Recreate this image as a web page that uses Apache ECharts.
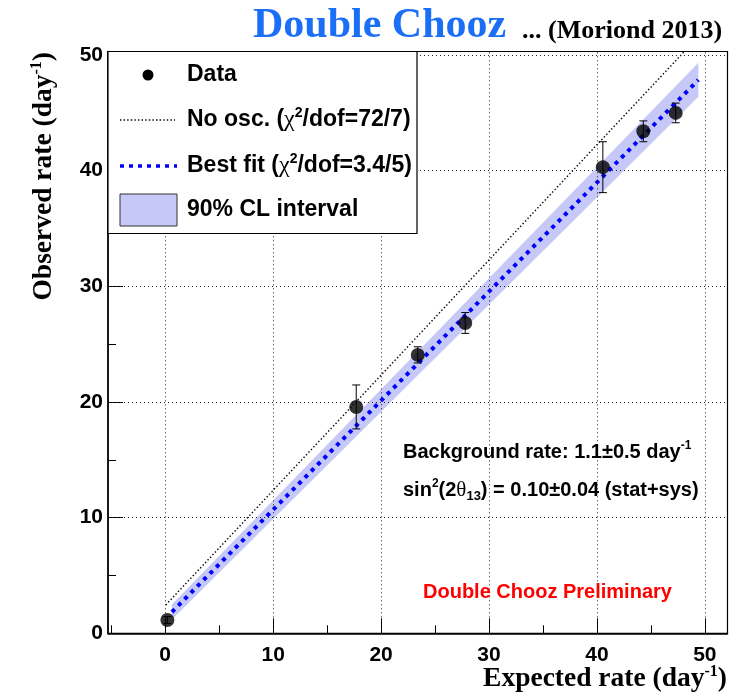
<!DOCTYPE html>
<html><head><meta charset="utf-8">
<script src="https://cdn.jsdelivr.net/npm/echarts@6/dist/echarts.min.js"></script>
<style>html,body{margin:0;padding:0;background:#fff}#c{width:742px;height:696px}</style>
</head><body><div id="c"></div>
<script>
// ---- data ----
const dataX   = [0.2, 17.7, 23.4, 27.8, 40.55, 44.3, 47.3];
const dataY   = [1.15, 19.57, 24.07, 26.83, 40.3, 43.4, 44.99];
const dataErr = [0.3, 1.9, 0.7, 0.9, 2.2, 0.9, 0.85];

const noOscX = [0.05, 48.1];
const noOscY = [2.45, 50.3];

const fitX = [0.62, 49.4];
const fitY = [1.84, 47.84];

const bandX  = [0.62, 49.4];
const bandLo = [1.2, 46.39];
const bandHi = [2.5, 49.33];

const xMajor = [0, 10, 20, 30, 40, 50];
const xMinor = [-5, 5, 15, 25, 35, 45];
const yMajor = [0, 10, 20, 30, 40, 50];
const yMinor = [5, 15, 25, 35, 45];
const gridX = [0, 10, 20, 30, 40, 50];
const gridY = [10, 20, 30, 40, 50];

const X_MIN = -5.3, X_MAX = 52.1, Y_MIN = 0, Y_MAX = 50.3;

// ---- chart ----
const chart = echarts.init(document.getElementById('c'), null, {renderer: 'canvas'});
const SANS = 'Liberation Sans, Helvetica, Arial, sans-serif';
const SERIF = 'Liberation Serif, Times New Roman, serif';
const BAND_COLOR = '#c6c9f7';

const tickLabel = {fontSize: 21, fontWeight: 'bold', fontFamily: SANS, color: '#000'};

function xAxisDef(major) {
  return {
    type: 'value', min: X_MIN, max: X_MAX, position: 'bottom',
    axisLine: {show: major, onZero: false, lineStyle: {color: '#000', width: 1.5}},
    axisTick: {show: true, inside: true, length: major ? 15 : 8,
               customValues: major ? xMajor : xMinor,
               lineStyle: {color: '#000', width: 1}},
    axisLabel: major ? Object.assign({show: true, margin: 11, customValues: xMajor}, tickLabel) : {show: false},
    splitLine: {show: false}
  };
}
function yAxisDef(major) {
  return {
    type: 'value', min: Y_MIN, max: Y_MAX, position: 'left',
    axisLine: {show: major, onZero: false, lineStyle: {color: '#000', width: 1.5}},
    axisTick: {show: true, inside: true, length: major ? 15 : 8,
               customValues: major ? yMajor : yMinor,
               lineStyle: {color: '#000', width: 1}},
    axisLabel: major ? Object.assign({show: true, margin: 5, customValues: yMajor}, tickLabel) : {show: false},
    splitLine: {show: false}
  };
}

const points = dataX.map((x, i) => [x, dataY[i]]);
const errData = dataX.map((x, i) => [x, dataY[i], dataErr[i]]);

const LEG_FS = 23;
const ANN_FS = 20;

const option = {
  animation: false,
  backgroundColor: '#fff',
  grid: {left: 108, right: 14.5, top: 51.5, bottom: 62.7, show: true,
         borderColor: '#000', borderWidth: 1.2, backgroundColor: 'transparent'},
  xAxis: [xAxisDef(true), xAxisDef(false)],
  yAxis: [yAxisDef(true), yAxisDef(false)],
  series: [
    { // grid lines
      type: 'line', data: [], silent: true, z: 1,
      markLine: {
        silent: true, symbol: ['none', 'none'], label: {show: false},
        lineStyle: {type: [1, 3], color: '#222', width: 1},
        data: gridX.map(v => ({xAxis: v})).concat(gridY.map(v => ({yAxis: v})))
      }
    },
    { // 90% CL band
      type: 'custom', z: 2, silent: true, clip: true,
      data: [[bandX[0], bandLo[0]]],
      renderItem: function (params, api) {
        const pts = [];
        for (let i = 0; i < bandX.length; i++) pts.push(api.coord([bandX[i], bandHi[i]]));
        for (let i = bandX.length - 1; i >= 0; i--) pts.push(api.coord([bandX[i], bandLo[i]]));
        return {type: 'polygon', shape: {points: pts}, style: {fill: BAND_COLOR}};
      }
    },
    { // no oscillation
      type: 'line', z: 3, symbol: 'none', silent: true,
      data: noOscX.map((x, i) => [x, noOscY[i]]),
      lineStyle: {color: '#000', width: 1.4, type: [1.4, 2.2]}
    },
    { // best fit
      type: 'line', z: 4, symbol: 'none', silent: true,
      data: fitX.map((x, i) => [x, fitY[i]]),
      lineStyle: {color: '#0000ff', width: 4, type: [4, 5]}
    },
    { // error bars
      type: 'custom', z: 5, silent: true,
      data: errData,
      renderItem: function (params, api) {
        const x = api.value(0), y = api.value(1), e = api.value(2);
        const top = api.coord([x, y + e]);
        const bot = api.coord([x, y - e]);
        const cw = 4;
        const st = {stroke: '#000', lineWidth: 1};
        return {type: 'group', children: [
          {type: 'line', shape: {x1: top[0], y1: top[1], x2: bot[0], y2: bot[1]}, style: st},
          {type: 'line', shape: {x1: top[0] - cw, y1: top[1], x2: top[0] + cw, y2: top[1]}, style: st},
          {type: 'line', shape: {x1: bot[0] - cw, y1: bot[1], x2: bot[0] + cw, y2: bot[1]}, style: st}
        ]};
      }
    },
    { // data points
      type: 'scatter', z: 6, symbol: 'circle', symbolSize: 14,
      itemStyle: {color: '#000'},
      data: points
    }
  ],
  graphic: [
    // title
    {type: 'text', x: 253, y: 47, z: 100, style: {text: 'Double Chooz', fontFamily: SERIF, fontWeight: 'bold', fontSize: 42, fill: '#1a6ff6', verticalAlign: 'bottom'}},
    {type: 'text', x: 522, y: 44, z: 100, style: {text: '... (Moriond 2013)', fontFamily: SERIF, fontWeight: 'bold', fontSize: 26, fill: '#000', verticalAlign: 'bottom'}},
    // axis titles
    {type: 'text', x: 727, y: 679, z: 100, style: {
      text: '{t|Expected rate (day}{s|-1}{t|)}', align: 'right', verticalAlign: 'middle',
      rich: {t: {fontFamily: SERIF, fontWeight: 'bold', fontSize: 27.5, fill: '#000'},
             s: {fontFamily: SERIF, fontWeight: 'bold', fontSize: 16, fill: '#000', padding: [0, 0, 14, 0]}}}},
    {type: 'text', x: 44, y: 52, rotation: Math.PI / 2, z: 100, style: {
      text: '{t|Observed rate (day}{s|-1}{t|)}', align: 'right', verticalAlign: 'middle',
      rich: {t: {fontFamily: SERIF, fontWeight: 'bold', fontSize: 27.5, fill: '#000'},
             s: {fontFamily: SERIF, fontWeight: 'bold', fontSize: 16, fill: '#000', padding: [0, 0, 14, 0]}}}},
    // legend
    {type: 'rect', z: 100, shape: {x: 108, y: 51.5, width: 309, height: 182}, style: {fill: '#fff', stroke: '#000', lineWidth: 1.2}},
    {type: 'circle', z: 101, shape: {cx: 148, cy: 75, r: 5.5}, style: {fill: '#000'}},
    {type: 'line', z: 101, shape: {x1: 120, y1: 120, x2: 175, y2: 120}, style: {stroke: '#000', lineWidth: 1.4, lineDash: [1.4, 2.2]}},
    {type: 'line', z: 101, shape: {x1: 120, y1: 166, x2: 177, y2: 166}, style: {stroke: '#0000ff', lineWidth: 3.5, lineDash: [4, 5]}},
    {type: 'rect', z: 101, shape: {x: 120, y: 194, width: 57, height: 32}, style: {fill: BAND_COLOR, stroke: '#333', lineWidth: 1}},
    {type: 'text', x: 187, y: 75, z: 101, style: {text: 'Data', fontFamily: SANS, fontWeight: 'bold', fontSize: LEG_FS, fill: '#000', verticalAlign: 'middle'}},
    {type: 'text', x: 187, y: 120, z: 101, style: {
      text: '{t|No osc. (}{g|χ}{s|2}{t|/dof=72/7)}', verticalAlign: 'middle',
      rich: {t: {fontFamily: SANS, fontWeight: 'bold', fontSize: LEG_FS, fill: '#000'},
             g: {fontFamily: SERIF, fontSize: 24, fill: '#000'},
             s: {fontFamily: SANS, fontWeight: 'bold', fontSize: 14, fill: '#000', padding: [0, 0, 13, 0]}}}},
    {type: 'text', x: 187, y: 166, z: 101, style: {
      text: '{t|Best fit (}{g|χ}{s|2}{t|/dof=3.4/5)}', verticalAlign: 'middle',
      rich: {t: {fontFamily: SANS, fontWeight: 'bold', fontSize: LEG_FS, fill: '#000'},
             g: {fontFamily: SERIF, fontSize: 24, fill: '#000'},
             s: {fontFamily: SANS, fontWeight: 'bold', fontSize: 14, fill: '#000', padding: [0, 0, 13, 0]}}}},
    {type: 'text', x: 187, y: 210, z: 101, style: {text: '90% CL interval', fontFamily: SANS, fontWeight: 'bold', fontSize: LEG_FS, fill: '#000', verticalAlign: 'middle'}},
    // annotations
    {type: 'text', x: 403, y: 452, z: 100, style: {
      text: '{t|Background rate: 1.1±0.5 day}{s|-1}', verticalAlign: 'middle',
      rich: {t: {fontFamily: SANS, fontWeight: 'bold', fontSize: ANN_FS, fill: '#000'},
             s: {fontFamily: SANS, fontWeight: 'bold', fontSize: 12, fill: '#000', padding: [0, 0, 12, 0]}}}},
    {type: 'text', x: 403, y: 490, z: 100, style: {
      text: '{t|sin}{s|2}{t|(2}{g|θ}{b|13}{t|) = 0.10±0.04 (stat+sys)}', verticalAlign: 'middle',
      rich: {t: {fontFamily: SANS, fontWeight: 'bold', fontSize: ANN_FS, fill: '#000'},
             g: {fontFamily: SERIF, fontSize: 21, fill: '#000'},
             s: {fontFamily: SANS, fontWeight: 'bold', fontSize: 12, fill: '#000', padding: [0, 0, 12, 0]},
             b: {fontFamily: SANS, fontWeight: 'bold', fontSize: 13, fill: '#000', padding: [12, 0, 0, 0]}}}},
    {type: 'text', x: 423, y: 592, z: 100, style: {text: 'Double Chooz Preliminary', fontFamily: SANS, fontWeight: 'bold', fontSize: 20, fill: '#ff0000', verticalAlign: 'middle'}}
  ]
};
chart.setOption(option);
</script>
</body></html>
